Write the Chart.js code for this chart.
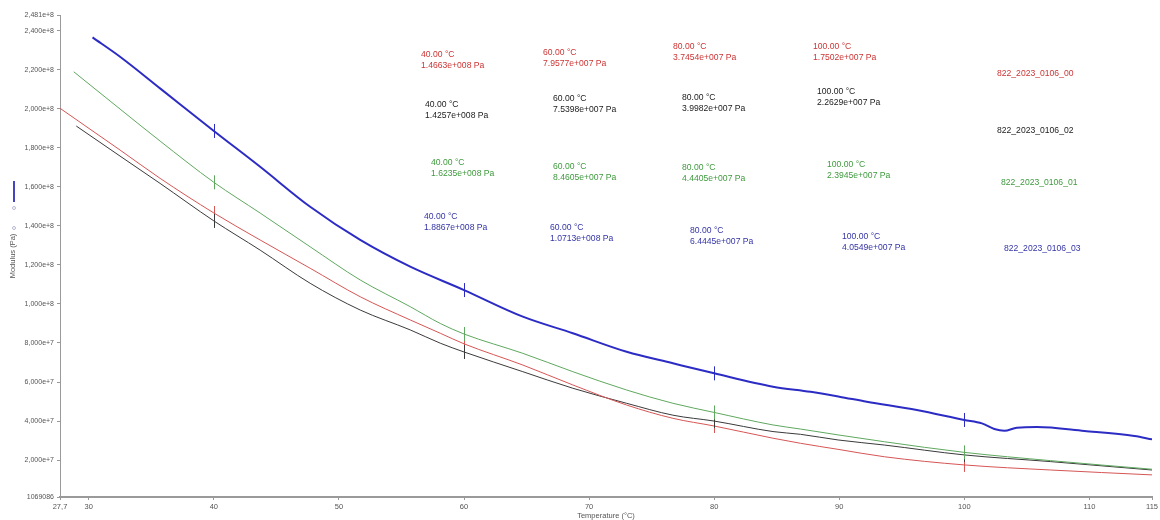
<!DOCTYPE html>
<html>
<head>
<meta charset="utf-8">
<script src="https://cdn.jsdelivr.net/npm/chart.js@4.4.1/dist/chart.umd.min.js"></script>
<style>
  html, body { margin: 0; padding: 0; background: #fff; }
</style>
</head>
<body>
<canvas id="chart" width="1160" height="520"></canvas>
<script>
// sample names
var seriesNames = ['822_2023_0106_00', '822_2023_0106_02', '822_2023_0106_01', '822_2023_0106_03'];

// temperature (°C) and modulus (Pa)
var tempRed = [27.7, 32.5, 35.7, 40, 43.7, 47.7, 51.7, 55.7, 58.1, 60, 64.7, 68.7, 73, 76.7, 80, 84.7, 86.9, 89.9, 93.6, 100, 106.9, 115];
var modRed = [2.003e8, 1.789e8, 1.644e8, 1.4663e8, 1.328e8, 1.183e8, 1.037e8, 9.18e7, 8.5e7, 7.9577e7, 6.87e7, 5.85e7, 4.82e7, 4.14e7, 3.7454e7, 3.12e7, 2.86e7, 2.55e7, 2.17e7, 1.7502e7, 1.49e7, 1.24e7];

var tempBlack = [29.0, 32.5, 35.7, 40, 43.7, 47.7, 51.7, 55.7, 58.1, 60, 64.7, 68.7, 73, 76.7, 80, 84.7, 86.9, 89.9, 93.6, 100, 106.9, 115];
var modBlack = [1.912e8, 1.758e8, 1.618e8, 1.4257e8, 1.276e8, 1.106e8, 9.69e7, 8.67e7, 7.99e7, 7.5398e7, 6.53e7, 5.68e7, 4.91e7, 4.3e7, 3.9982e7, 3.46e7, 3.32e7, 3.03e7, 2.77e7, 2.2629e7, 1.92e7, 1.49e7];

var tempGreen = [28.8, 32.5, 35.7, 40, 43.7, 47.7, 51.7, 55.7, 58.1, 60, 64.7, 68.7, 73, 76.7, 80, 84.7, 86.9, 89.9, 93.6, 100, 106.9, 115];
var modGreen = [2.19e8, 1.999e8, 1.835e8, 1.6235e8, 1.466e8, 1.293e8, 1.123e8, 9.86e7, 9.0e7, 8.4605e7, 7.47e7, 6.53e7, 5.59e7, 4.91e7, 4.4405e7, 3.8e7, 3.59e7, 3.29e7, 2.94e7, 2.3945e7, 1.97e7, 1.53e7];

var tempBlue = [30.3, 32.5, 35.7, 40, 43.7, 47.7, 51.7, 55.7, 60, 64.7, 68.7, 73, 76.7, 80, 84.7, 87.7, 90, 92.2, 96.2, 100, 101.4, 102.4, 103.2, 104.2, 105.8, 109.6, 113.6, 115];
var modBlue = [2.366e8, 2.267e8, 2.105e8, 1.8867e8, 1.703e8, 1.498e8, 1.328e8, 1.191e8, 1.0713e8, 9.35e7, 8.5e7, 7.55e7, 6.96e7, 6.4445e7, 5.76e7, 5.5e7, 5.25e7, 4.99e7, 4.57e7, 4.0549e7, 3.88e7, 3.59e7, 3.5e7, 3.66e7, 3.69e7, 3.49e7, 3.23e7, 3.06e7];

// cursor read-outs
var markTemps = [40, 60, 80, 100];
var markRed = [1.4663e8, 7.9577e7, 3.7454e7, 1.7502e7];
var markBlack = [1.4257e8, 7.5398e7, 3.9982e7, 2.2629e7];
var markGreen = [1.6235e8, 8.4605e7, 4.4405e7, 2.3945e7];
var markBlue = [1.8867e8, 1.0713e8, 6.4445e7, 4.0549e7];

// axis ticks
var xTicks = [27.7, 30, 40, 50, 60, 70, 80, 90, 100, 110, 115];
var xTickLabels = ['27,7', '30', '40', '50', '60', '70', '80', '90', '100', '110', '115'];
var yTicks = [1069086, 2e7, 4e7, 6e7, 8e7, 1e8, 1.2e8, 1.4e8, 1.6e8, 1.8e8, 2e8, 2.2e8, 2.4e8, 2.481e8];
var yTickLabels = ['1069086', '2,000e+7', '4,000e+7', '6,000e+7', '8,000e+7', '1,000e+8', '1,200e+8', '1,400e+8',
  '1,600e+8', '1,800e+8', '2,000e+8', '2,200e+8', '2,400e+8', '2,481e+8'];

var FONT = '"Liberation Sans", Arial, sans-serif';

function points(xs, ys) {
  return xs.map(function(x, i) { return {x: x, y: ys[i]}; });
}

// "1.4663e+008" style
function sci(v) {
  var e = Math.floor(Math.log10(v));
  var m = v / Math.pow(10, e);
  var es = String(Math.abs(e));
  while (es.length < 3) es = '0' + es;
  return m.toFixed(4) + 'e' + (e < 0 ? '-' : '+') + es;
}

// per sample: line colour, text colour, read-outs, where the text boxes sit
var groups = [
  {name: seriesNames[0], line: '#d65555', text: '#cc3535', marks: markRed,
    boxes: [[421, 55], [543, 53], [673, 47], [813, 47]], nameAt: [997, 74]},
  {name: seriesNames[1], line: '#3a3a3a', text: '#222222', marks: markBlack,
    boxes: [[425, 105], [553, 99], [682, 98], [817, 92]], nameAt: [997, 131]},
  {name: seriesNames[2], line: '#5fa85f', text: '#3f9a3f', marks: markGreen,
    boxes: [[431, 163], [553, 167], [682, 168], [827, 165]], nameAt: [1001, 183]},
  {name: seriesNames[3], line: '#2c2cc4', text: '#3434a8', marks: markBlue,
    boxes: [[424, 217], [550, 228], [690, 231], [842, 237]], nameAt: [1004, 249]}
];

var overlay = {
  id: 'overlay',
  afterDatasetsDraw: function(chart) {
    var ctx = chart.ctx;
    var xs = chart.scales.x, ys = chart.scales.y;
    ctx.save();
    groups.forEach(function(g) {
      ctx.strokeStyle = g.line;
      ctx.lineWidth = 1;
      markTemps.forEach(function(t, i) {
        var px = Math.round(xs.getPixelForValue(t)) + 0.5;
        var py = ys.getPixelForValue(g.marks[i]);
        ctx.beginPath();
        ctx.moveTo(px, py - 7);
        ctx.lineTo(px, py + 7);
        ctx.stroke();
      });
      ctx.fillStyle = g.text;
      ctx.font = '8.6px ' + FONT;
      ctx.textBaseline = 'middle';
      ctx.textAlign = 'left';
      markTemps.forEach(function(t, i) {
        var b = g.boxes[i];
        ctx.fillText(t.toFixed(2) + ' °C', b[0], b[1]);
        ctx.fillText(sci(g.marks[i]) + ' Pa', b[0], b[1] + 11);
      });
      ctx.fillText(g.name, g.nameAt[0], g.nameAt[1]);
    });
    // leftover legend swatch at the far left
    ctx.strokeStyle = '#4545c0';
    ctx.lineWidth = 2;
    ctx.beginPath();
    ctx.moveTo(14, 181);
    ctx.lineTo(14, 202);
    ctx.stroke();
    ctx.strokeStyle = '#b8b8d0';
    ctx.lineWidth = 1;
    [208, 228].forEach(function(y) {
      ctx.beginPath();
      ctx.arc(14, y, 1.5, 0, Math.PI * 2);
      ctx.stroke();
    });
    ctx.restore();
  }
};

var tickFont = {family: FONT, size: 7.5};

new Chart(document.getElementById('chart'), {
  type: 'line',
  data: {
    datasets: [
      {label: seriesNames[3], data: points(tempBlue, modBlue), borderColor: groups[3].line, borderWidth: 2},
      {label: seriesNames[2], data: points(tempGreen, modGreen), borderColor: groups[2].line, borderWidth: 1},
      {label: seriesNames[0], data: points(tempRed, modRed), borderColor: groups[0].line, borderWidth: 1},
      {label: seriesNames[1], data: points(tempBlack, modBlack), borderColor: groups[1].line, borderWidth: 1}
    ]
  },
  options: {
    responsive: false,
    animation: false,
    layout: {padding: {top: 15, right: 8, left: 0, bottom: 0}},
    elements: {
      point: {radius: 0},
      line: {cubicInterpolationMode: 'monotone', fill: false}
    },
    plugins: {
      legend: {display: false},
      tooltip: {enabled: false}
    },
    scales: {
      x: {
        type: 'linear',
        min: 27.7,
        max: 115,
        afterBuildTicks: function(scale) {
          scale.ticks = xTicks.map(function(v) { return {value: v}; });
        },
        afterFit: function(scale) { scale.height = 23; },
        ticks: {
          autoSkip: false,
          maxRotation: 0,
          color: '#555',
          font: tickFont,
          padding: 2,
          callback: function(v, i) { return xTickLabels[i]; }
        },
        grid: {drawOnChartArea: false, drawTicks: true, tickLength: 3, color: '#999'},
        border: {color: '#9a9a9a', width: 2},
        title: {display: true, text: 'Temperature (°C)', color: '#555', font: tickFont, padding: {top: 0, bottom: 0}}
      },
      y: {
        type: 'linear',
        min: 1069086,
        max: 2.481e8,
        afterBuildTicks: function(scale) {
          scale.ticks = yTicks.map(function(v) { return {value: v}; });
        },
        afterFit: function(scale) { scale.width = 60; },
        ticks: {
          autoSkip: false,
          color: '#555',
          font: {family: FONT, size: 7},
          padding: 3,
          callback: function(v, i) { return yTickLabels[i]; }
        },
        grid: {drawOnChartArea: false, drawTicks: true, tickLength: 3, color: '#999'},
        border: {color: '#9a9a9a', width: 1},
        title: {display: true, text: 'Modulus (Pa)', color: '#555', font: tickFont, padding: {top: 8.5, bottom: 0}}
      }
    }
  },
  plugins: [overlay]
});
</script>
</body>
</html>
